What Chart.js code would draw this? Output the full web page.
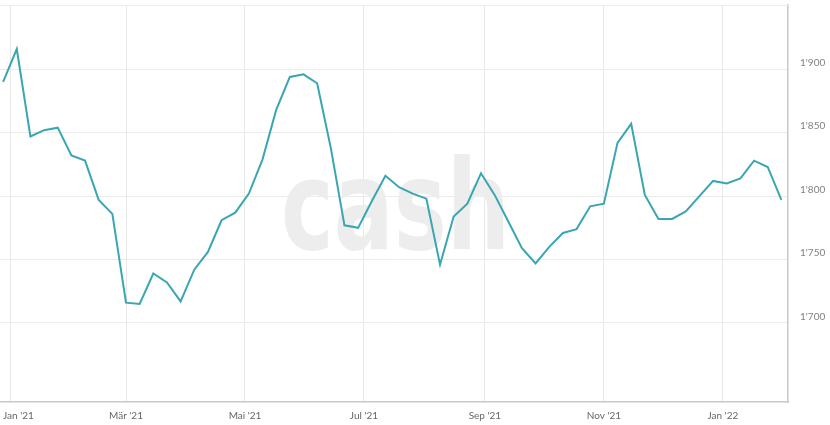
<!DOCTYPE html>
<html>
<head>
<meta charset="utf-8">
<script src="https://cdn.jsdelivr.net/npm/chart.js@4.4.0/dist/chart.umd.min.js"></script>
<style>
html, body { margin: 0; padding: 0; background: #fff; }
#wrap { width: 830px; height: 425px; }
</style>
</head>
<body>
<div id="wrap"><canvas id="priceChart"></canvas></div>
<script>
// weekly closing values, first week starts Mon 28 Dec 2020
var firstWeek = '2020-12-28';
var prices = [1890, 1916, 1847, 1852, 1854, 1832, 1828, 1797, 1786, 1716,
              1715, 1739, 1732, 1717, 1742, 1756, 1781, 1787, 1802, 1829,
              1868, 1894, 1896, 1889, 1838, 1777, 1775, 1796, 1816, 1807,
              1802, 1798, 1746, 1784, 1794, 1818, 1801, 1780, 1759, 1747,
              1760, 1771, 1774, 1792, 1794, 1842, 1857, 1801, 1782, 1782,
              1788, 1800, 1812, 1810, 1814, 1828, 1823, 1797];

// x axis ticks (every two months)
var tickDates = ['2021-01-01', '2021-03-01', '2021-05-01', '2021-07-01', '2021-09-01', '2021-11-01', '2022-01-01'];
var tickLabels = ["Jan '21", "M\u00e4r '21", "Mai '21", "Jul '21", "Sep '21", "Nov '21", "Jan '22"];

// y axis ticks
var yTicks = [1700, 1750, 1800, 1850, 1900];

//days since 1 Jan 2021
function dayNo(s) {
    var p = s.split('-');
    return (Date.UTC(+p[0], p[1] - 1, +p[2]) - Date.UTC(2021, 0, 1)) / 864e5;
}

var start = dayNo(firstWeek);
var points = prices.map(function (v, i) {
    return { x: start + i * 7, y: v };
});
var tickDays = tickDates.map(dayNo);

function fmt(v) {
    var s = String(v);
    return s.length > 3 ? s.slice(0, s.length - 3) + "'" + s.slice(-3) : s;
}

// watermark, top frame line and the month labels
var decor = {
    id: 'decor',
    beforeDatasetsDraw: function (chart) {
        var ctx = chart.ctx, a = chart.chartArea;
        ctx.save();
        ctx.fillStyle = '#ededed';
        ctx.font = 'bold 124px "DejaVu Sans"';
        var w = ctx.measureText('cash').width;
        ctx.translate(281, 249);
        ctx.scale(229 / w, 1);
        ctx.fillText('cash', 0, 0);
        ctx.restore();

        ctx.save();
        ctx.strokeStyle = '#ececec';
        ctx.lineWidth = 1;
        ctx.beginPath();
        ctx.moveTo(a.left, a.top + 0.5);
        ctx.lineTo(a.right, a.top + 0.5);
        ctx.stroke();
        ctx.restore();
    },
    afterDraw: function (chart) {
        var ctx = chart.ctx, xs = chart.scales.x;
        ctx.save();
        ctx.font = '10px Lato';
        ctx.fillStyle = '#666';
        ctx.textBaseline = 'middle';
        tickDays.forEach(function (d, i) {
            var px = xs.getPixelForValue(d);
            var w = ctx.measureText(tickLabels[i]).width;
            var left = Math.max(px - w / 2, 3);
            ctx.fillText(tickLabels[i], left, xs.top + 14);
        });
        ctx.restore();
    }
};

var chart = new Chart(document.getElementById('priceChart'), {
    type: 'line',
    data: {
        datasets: [{
            data: points,
            borderColor: '#3aa6b2',
            borderWidth: 2,
            pointRadius: 0,
            tension: 0,
            fill: false
        }]
    },
    options: {
        responsive: true,
        maintainAspectRatio: false,
        animation: false,
        layout: { padding: { top: 5, left: 0, right: 0, bottom: 0 } },
        plugins: {
            legend: { display: false },
            tooltip: { enabled: false }
        },
        scales: {
            x: {
                type: 'linear',
                min: -5.6,
                max: 398.4,
                afterBuildTicks: function (s) {
                    s.ticks = tickDays.map(function (d) { return { value: d }; });
                },
                afterFit: function (s) { s.height = 23; },
                ticks: { display: false },
                grid: { color: '#e8e8e8', drawTicks: false },
                border: { color: '#c8c8c8', width: 1.5 }
            },
            y: {
                position: 'right',
                min: 1637.7,
                max: 1950.7,
                afterBuildTicks: function (s) {
                    s.ticks = yTicks.map(function (v) { return { value: v }; });
                },
                afterFit: function (s) {
                    s.width = 42;
                    s.paddingTop = 0;
                    s.paddingBottom = 0;
                },
                ticks: {
                    padding: 12,
                    labelOffset: -6.5,
                    color: '#808080',
                    font: { family: 'Lato', size: 10 },
                    callback: function (v) { return fmt(v); }
                },
                grid: { color: '#ececec', drawTicks: false },
                border: { color: '#c8c8c8', width: 1.5 }
            }
        }
    },
    plugins: [decor]
});
</script>
</body>
</html>
